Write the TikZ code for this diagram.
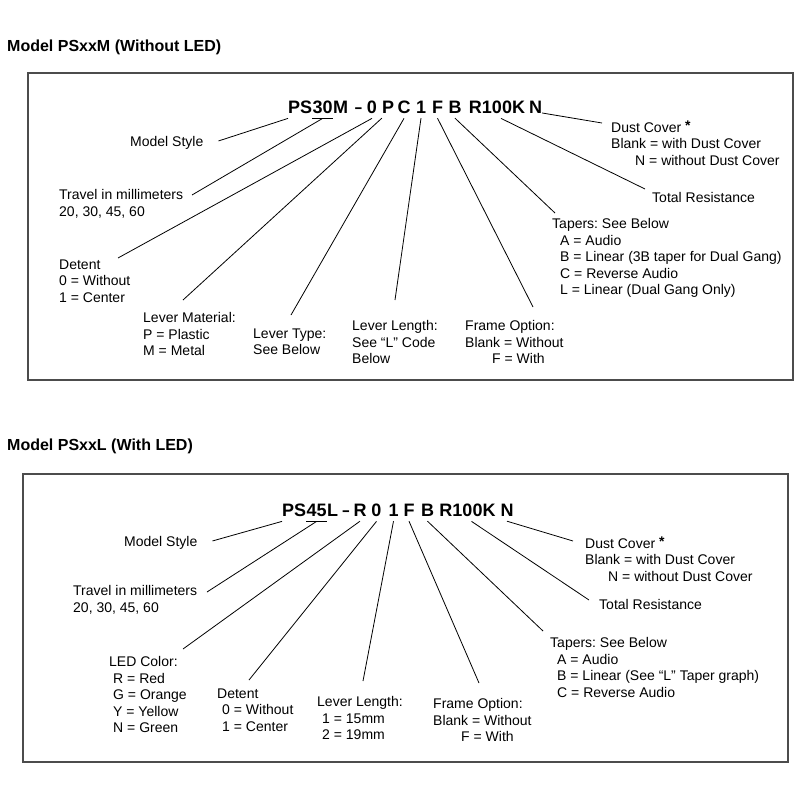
\documentclass[tikz,border=0pt]{standalone}
\usepackage{fontspec}
\usepackage{graphicx}
\setmainfont{Liberation Sans}
\usetikzlibrary{positioning}
\frenchspacing
\tikzset{
  lbl/.style={anchor=north west, inner sep=0pt, align=left,
    font=\fontsize{14}{16.5}\selectfont, execute at begin node=\strut},
  code/.style={anchor=base, inner xsep=0pt, inner ysep=5pt,
    font=\fontsize{18}{20}\selectfont\bfseries},
  title/.style={anchor=base west, inner sep=0pt,
    font=\fontsize{16}{18}\selectfont\bfseries},
  lead/.style={draw=black, line width=0.8pt},
  frame/.style={draw=black!70, line width=1.2pt},
}
\newcommand{\codedash}{\scalebox{0.72}[1]{\textendash}}
\begin{document}
\begin{tikzpicture}[x=1pt, y=-1pt]
\useasboundingbox (0,0) rectangle (800,800);
% Titles and frames
\node[title] (t1) at (7,51.5) {Model PSxxM (Without LED)};
\node[title] (t2) at (7,450.5) {Model PSxxL (With LED)};
\draw[frame] (28,73) rectangle (793,380);
\draw[frame] (23,474) rectangle (788,762);

% Part number without LED
\node[code, anchor=base west] (mPS) at (288,113) {PS};
\node[code, anchor=base west] (m30) at (mPS.base east) {30};
\node[code, anchor=base west] (mM) at (m30.base east) {M};
\foreach \n/\t/\x in {mDash/\codedash/358.5, m0/0/372, mP/P/388, mC/C/404, m1/1/421,
    mF/F/437.5, mB/B/455, mRes/R100K/497, mN/N/535.5}
  \node[code] (\n) at (\x,113) {\t};
\draw[lead] (m30.south west) -- (m30.south east);

\node[lbl] (mStyle) at (130,134.5) {Model Style};
\node[lbl] (mTravel) at (59,189.5) {Travel in millimeters\\20, 30, 45, 60};
\node[lbl] (mDetent) at (59,259.5) {Detent\\0 = Without\\1 = Center};
\node[lbl] (mMat) at (143,312.5) {Lever Material:\\P = Plastic\\M = Metal};
\node[lbl] (mType) at (253,328.5) {Lever Type:\\See Below};
\node[lbl] (mLen) at (352,320.5) {Lever Length:\\See “L” Code\\Below};
\node[lbl] (mFrame) at (465,320.5) {Frame Option:\\Blank = Without\\\hspace*{27pt}F = With};
\node[lbl] (mTaper) at (552,218.5) {Tapers: See Below\\\hspace*{8pt}A = Audio\\\hspace*{8pt}B = Linear (3B taper for Dual Gang)\\\hspace*{8pt}C = Reverse Audio\\\hspace*{8pt}L = Linear (Dual Gang Only)};
\node[lbl] (mTotal) at (652,190.5) {Total Resistance};
\node[lbl] (mDust) at (611,120.5) {Dust Cover \raisebox{2pt}{\bfseries *}\\Blank = with Dust Cover\\\hspace*{24pt}N = without Dust Cover};

\draw[lead] (mPS.south west) -- ([xshift=15pt,yshift=2pt]mStyle.east);
\draw[lead] (m30.south) -- ([shift={(133pt,-5.5pt)}]mTravel.north west);
\draw[lead] (m0.south) -- ([shift={(59pt,1.5pt)}]mDetent.north west);
\draw[lead] (mP.south west) -- ([shift={(40pt,12.5pt)}]mMat.north west);
\draw[lead] (mC.south) -- ([shift={(38pt,13.5pt)}]mType.north west);
\draw[lead] (m1.south) -- ([shift={(43pt,20.5pt)}]mLen.north west);
\draw[lead] (mF.south) -- ([shift={(68pt,13.5pt)}]mFrame.north west);
\draw[lead] (mB.south) -- ([shift={(3pt,5.5pt)}]mTaper.north west);
\draw[lead] ([xshift=4pt]mRes.south) -- ([shift={(-7pt,1.5pt)}]mTotal.north west);
\draw[lead] (mN.base east) -- ([shift={(-9pt,-2.5pt)}]mDust.north west);

% Part number with LED
\node[code, anchor=base west] (lPS) at (282,516) {PS};
\node[code, anchor=base west] (l45) at (lPS.base east) {45};
\node[code, anchor=base west] (lL) at (l45.base east) {L};
\foreach \n/\t/\x in {lDash/\codedash/346, lLed/R/360, l0/0/376.5, l1/1/393.5,
    lF/F/409, lB/B/427.5, lRes/R100K/467.5, lN/N/507}
  \node[code] (\n) at (\x,516) {\t};
\draw[lead] (l45.south west) -- (l45.south east);

\node[lbl] (lStyle) at (124,534.5) {Model Style};
\node[lbl] (lTravel) at (73,585.5) {Travel in millimeters\\20, 30, 45, 60};
\node[lbl] (lColor) at (109,656.5) {LED Color:\\\hspace*{4pt}R = Red\\\hspace*{4pt}G = Orange\\\hspace*{4pt}Y = Yellow\\\hspace*{4pt}N = Green};
\node[lbl] (lDetent) at (217,688.5) {Detent\\\hspace*{5pt}0 = Without\\\hspace*{5pt}1 = Center};
\node[lbl] (lLen) at (317,696.5) {Lever Length:\\\hspace*{5pt}1 = 15mm\\\hspace*{5pt}2 = 19mm};
\node[lbl] (lFrame) at (433,698.5) {Frame Option:\\Blank = Without\\\hspace*{28pt}F = With};
\node[lbl] (lTaper) at (550,637.5) {Tapers: See Below\\\hspace*{7pt}A = Audio\\\hspace*{7pt}B = Linear (See “L” Taper graph)\\\hspace*{7pt}C = Reverse Audio};
\node[lbl] (lTotal) at (599,597.5) {Total Resistance};
\node[lbl] (lDust) at (585,536.5) {Dust Cover \raisebox{2pt}{\bfseries *}\\Blank = with Dust Cover\\\hspace*{23pt}N = without Dust Cover};

\draw[lead] (lPS.south west) -- ([xshift=15pt,yshift=2pt]lStyle.east);
\draw[lead] (l45.south) -- ([shift={(134pt,-6.5pt)}]lTravel.north west);
\draw[lead] (lLed.south) -- ([shift={(74pt,7.5pt)}]lColor.north west);
\draw[lead] (l0.south) -- ([shift={(32pt,8.5pt)}]lDetent.north west);
\draw[lead] (l1.south) -- ([shift={(46pt,15.5pt)}]lLen.north west);
\draw[lead] (lF.south) -- ([shift={(46pt,15.5pt)}]lFrame.north west);
\draw[lead] (lB.south) -- ([shift={(-7pt,6.5pt)}]lTaper.north west);
\draw[lead] ([xshift=4pt]lRes.south) -- ([shift={(-10pt,-2.5pt)}]lTotal.north west);
\draw[lead] (lN.south) -- ([shift={(-12pt,-4.5pt)}]lDust.north west);
\end{tikzpicture}
\end{document}
